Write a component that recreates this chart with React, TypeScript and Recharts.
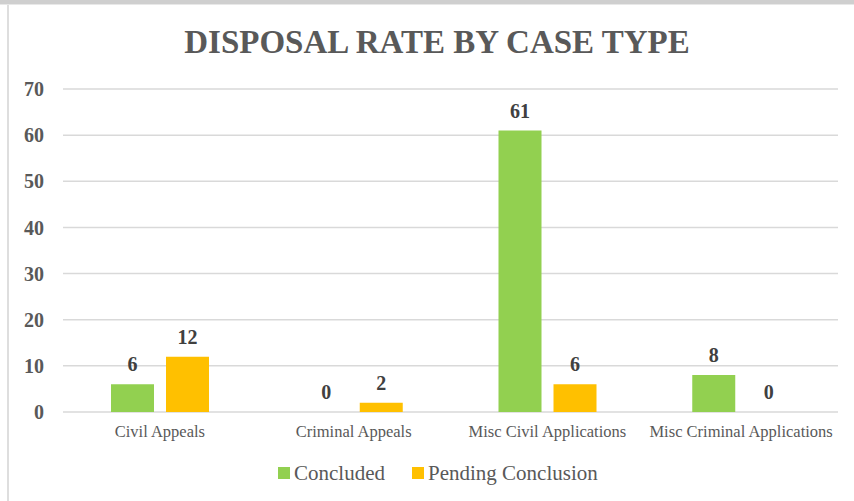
import React from 'react';
import { BarChart, Bar, XAxis, YAxis, CartesianGrid, Legend, LabelList } from 'recharts';

const caseTypes = ['Civil Appeals', 'Criminal Appeals', 'Misc Civil Applications', 'Misc Criminal Applications'];
const concluded = [6, 0, 61, 8];
const pending = [12, 2, 6, 0];
const yTicks = [0, 10, 20, 30, 40, 50, 60, 70];

const data = caseTypes.map((name, i) => ({ name, concluded: concluded[i], pending: pending[i] }));

const GREEN = '#92D050';
const YELLOW = '#FFC000';
const TEXT = '#595959';
const FONT = '"Liberation Serif", "Times New Roman", serif';

const LegendContent = () => (
  <div style={{ display: 'flex', alignItems: 'center', fontFamily: FONT, fontSize: 21, lineHeight: '24px', color: TEXT }}>
    <span style={{ width: 12, height: 12, background: GREEN, marginRight: 4 }}></span>
    <span>Concluded</span>
    <span style={{ width: 12, height: 12, background: YELLOW, marginLeft: 27, marginRight: 4 }}></span>
    <span>Pending Conclusion</span>
  </div>
);

const App: React.FC = () => {
  return (
    <div style={{ position: 'fixed', left: 0, top: 0, width: 854, height: 501, background: '#fff', overflow: 'hidden' }}>
      <div style={{ position: 'absolute', left: 0, top: 0, width: 854, height: 4, background: '#cfcfcf' }}></div>
      <div style={{ position: 'absolute', left: 0, top: 4, width: 854, height: 1, background: '#e8e8e8' }}></div>
      <div style={{ position: 'absolute', left: 7, top: 5, width: 2, height: 496, background: '#dedede' }}></div>
      <BarChart
        width={854}
        height={501}
        data={data}
        margin={{ top: 89, right: 16, bottom: 0, left: 0 }}
        barSize={43}
        barGap={12}
      >
        <CartesianGrid vertical={false} stroke="#d9d9d9" strokeWidth={1.5} />
        <XAxis
          dataKey="name"
          height={89}
          axisLine={false}
          tickLine={false}
          tickMargin={7}
          interval={0}
          tick={{ fill: TEXT, fontSize: 16.5, fontFamily: FONT }}
        />
        <YAxis
          width={63}
          domain={[0, 70]}
          ticks={yTicks}
          axisLine={false}
          tickLine={false}
          tickMargin={13}
          tick={{ fill: TEXT, fontSize: 20, fontWeight: 'bold', fontFamily: FONT }}
        />
        <Legend
          verticalAlign="middle"
          align="center"
          content={<LegendContent />}
          wrapperStyle={{ left: 278, top: 461, width: 'auto' }}
        />
        <Bar dataKey="concluded" name="Concluded" fill={GREEN} minPointSize={0.001} isAnimationActive={false}>
          <LabelList dataKey="concluded" position="top" offset={13} fill="#404040" fontSize={20} fontWeight="bold" fontFamily={FONT} />
        </Bar>
        <Bar dataKey="pending" name="Pending Conclusion" fill={YELLOW} minPointSize={0.001} isAnimationActive={false}>
          <LabelList dataKey="pending" position="top" offset={13} fill="#404040" fontSize={20} fontWeight="bold" fontFamily={FONT} />
        </Bar>
      </BarChart>
      <svg width={854} height={501} style={{ position: 'absolute', left: 0, top: 0, pointerEvents: 'none' }}>
        <text x={437} y={53} textAnchor="middle" fill={TEXT} fontSize={33} fontWeight="bold" fontFamily={FONT}>
          DISPOSAL RATE BY CASE TYPE
        </text>
      </svg>
    </div>
  );
};

export default App;
